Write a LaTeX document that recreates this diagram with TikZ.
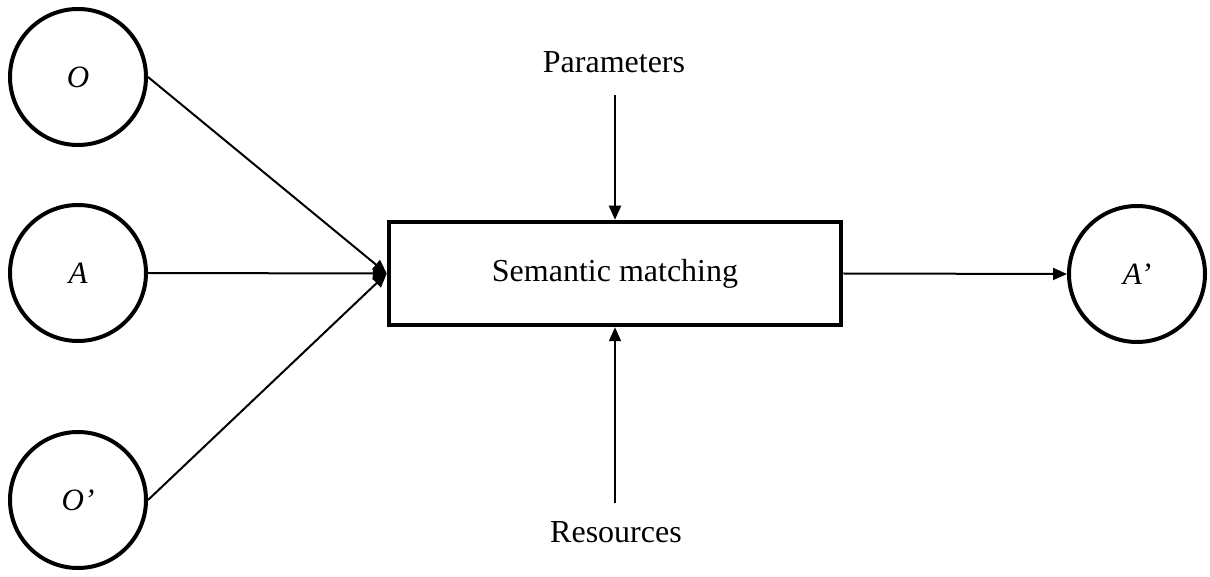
\documentclass[tikz,border=0pt]{standalone}
\usepackage{fontspec}
\setmainfont{Liberation Serif}
\usetikzlibrary{arrows.meta}
\begin{document}
\begin{tikzpicture}[x=1pt,y=1pt,
  circ/.style={draw,circle,line width=4pt,minimum size=136pt,inner sep=0pt,font=\fontsize{31}{37}\selectfont\itshape},
  procbox/.style={draw,rectangle,line width=4.5pt,minimum width=452pt,minimum height=103pt,inner sep=0pt,font=\fontsize{32}{38}\selectfont},
  lbl/.style={font=\fontsize{32}{38}\selectfont,inner sep=0pt,anchor=base},
  conn/.style={line width=2pt,-{Triangle[length=14pt,width=12pt]}}]
\useasboundingbox (0,0) rectangle (1210,576);
\node[circ] (O) at (78,499) {O};
\node[circ] (A) at (78,303) {A};
\node[circ] (Op) at (78,76) {O’};
\node[circ] (Ap) at (1137,302) {A’};
\node[procbox] (sm) at (615,302.5) {Semantic matching};
\node[lbl] (par) at (614,503) {Parameters};
\node[lbl] (res) at (616,34) {Resources};
\coordinate (pstart) at (615,481);
\coordinate (rstart) at (615,73);
\draw[conn] (O.east) -- (sm.west);
\draw[conn] (A.east) -- (sm.west);
\draw[conn] (Op.east) -- (sm.west);
\draw[conn] (sm.east) -- (Ap.west);
\draw[conn] (pstart) -- (sm.north);
\draw[conn] (rstart) -- (sm.south);
\end{tikzpicture}
\end{document}
